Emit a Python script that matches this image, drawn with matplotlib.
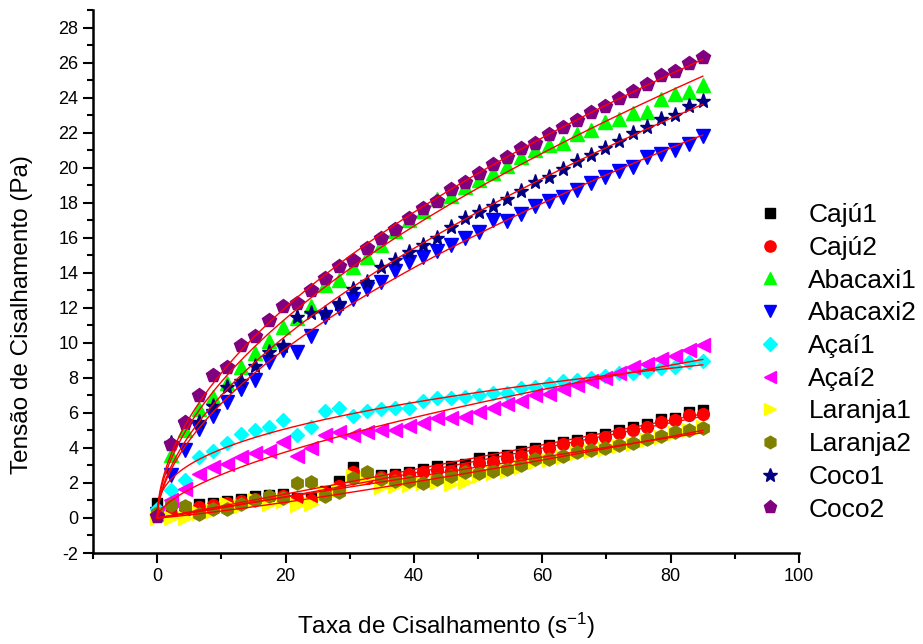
import numpy as np
import matplotlib
matplotlib.use("Agg")
import matplotlib.pyplot as plt
from matplotlib.ticker import MultipleLocator

plt.rcParams['font.family'] = ['Liberation Sans', 'DejaVu Sans']
plt.rcParams['mathtext.fontset'] = 'custom'
plt.rcParams['mathtext.rm'] = 'Liberation Sans'
plt.rcParams['mathtext.it'] = 'Liberation Sans'
plt.rcParams['axes.unicode_minus'] = False

# taxa de cisalhamento (1/s)
taxa = [0.0, 2.18, 4.36, 6.54, 8.72, 10.9, 13.08, 15.26, 17.44, 19.62,
        21.79, 23.97, 26.15, 28.33, 30.51, 32.69, 34.87, 37.05, 39.23, 41.41,
        43.59, 45.77, 47.95, 50.13, 52.31, 54.49, 56.67, 58.85, 61.03, 63.21,
        65.38, 67.56, 69.74, 71.92, 74.1, 76.28, 78.46, 80.64, 82.82, 85.0]

caju1 = [0.85, 0.25, 0.6, 0.78, 0.87, 0.97, 1.07, 1.26, 1.3, 1.35, 1.16, 1.16, 1.54, 2.1,
         2.9, 2.4, 2.45, 2.5, 2.6, 2.8, 2.95, 2.97, 3.1, 3.45, 3.5, 3.6, 3.8, 4.0, 4.17,
         4.36, 4.44, 4.6, 4.8, 5.0, 5.2, 5.35, 5.64, 5.7, 6.07, 6.15]
caju2 = [0.1, 0.2, 0.4, 0.65, 0.75, 0.85, 0.95, 1.1, 1.2, 1.25, 1.1, 1.05, 1.45, 1.85,
         2.65, 2.3, 2.35, 2.4, 2.5, 2.6, 2.72, 2.7, 2.78, 3.16, 3.2, 3.45, 3.54, 3.8, 4.0,
         4.2, 4.3, 4.5, 4.6, 4.87, 5.0, 5.2, 5.5, 5.58, 5.9, 5.96]
abacaxi1 = [0.2, 3.6, 5.0, 6.2, 6.9, 7.7, 8.6, 9.4, 10.1, 10.9, 11.4, 12.1, 13.3, 13.6,
            14.3, 14.9, 15.6, 16.4, 17.0, 17.5, 18.2, 18.4, 18.9, 19.3, 19.7, 20.1, 20.6,
            21.0, 21.3, 21.4, 21.9, 22.15, 22.6, 22.8, 23.1, 23.2, 23.9, 24.2, 24.3, 24.7]
abacaxi2 = [0.2, 2.45, 3.9, 5.1, 5.8, 6.6, 7.35, 7.9, 8.9, 9.6, 9.5, 10.4, 11.5, 12.0,
            12.5, 13.1, 13.5, 14.1, 14.6, 14.9, 15.25, 15.6, 16.0, 16.3, 17.0, 16.95, 17.35,
            17.8, 18.1, 18.3, 18.7, 19.1, 19.45, 19.8, 20.05, 20.6, 20.8, 21.0, 21.35, 21.8]
acai1 = [0.5, 1.6, 2.15, 3.5, 3.8, 4.3, 4.8, 5.05, 5.2, 5.6, 4.75, 5.2, 6.1, 6.3, 5.8,
         6.1, 6.2, 6.3, 6.3, 6.7, 6.85, 6.85, 6.9, 7.0, 7.15, 7.15, 7.4, 7.45, 7.65, 7.8,
         7.85, 8.0, 8.1, 8.25, 8.3, 8.4, 8.55, 8.6, 8.9, 8.95]
acai2 = [0.3, 1.0, 1.65, 2.5, 2.9, 3.1, 3.5, 3.7, 3.8, 4.35, 3.55, 4.0, 4.75, 4.9, 4.75,
         4.9, 5.0, 5.05, 5.25, 5.45, 5.7, 5.7, 5.75, 6.05, 6.3, 6.5, 6.7, 7.0, 7.1, 7.35,
         7.6, 7.8, 8.0, 8.3, 8.6, 8.8, 9.05, 9.25, 9.6, 9.9]
laranja1 = [0.0, 0.02, 0.0, 0.3, 0.4, 0.78, 0.7, 1.0, 0.8, 0.97, 0.75, 0.8, 1.4, 1.6,
            2.4, 2.3, 1.75, 1.8, 1.9, 2.0, 2.05, 1.96, 2.07, 2.4, 2.55, 2.7, 2.9, 3.2, 3.3,
            3.5, 3.7, 3.85, 3.95, 4.1, 4.25, 4.45, 4.65, 4.85, 5.0, 5.2]
laranja2 = [0.3, 0.74, 0.69, 0.25, 0.5, 0.5, 0.78, 1.0, 1.26, 1.15, 2.0, 2.05, 1.26, 1.5,
            2.3, 2.6, 2.2, 2.1, 2.1, 2.0, 2.2, 2.4, 2.6, 2.55, 2.7, 2.8, 3.05, 3.35, 3.35,
            3.55, 3.75, 3.9, 4.0, 4.15, 4.3, 4.5, 4.7, 4.9, 5.0, 5.15]
coco1 = [0.1, 4.3, 5.4, 5.5, 6.4, 7.5, 7.8, 8.7, 9.45, 9.8, 11.45, 11.7, 11.7, 12.2,
         13.1, 13.5, 14.3, 14.7, 15.2, 15.6, 16.0, 16.6, 17.1, 17.45, 17.8, 18.2, 18.65,
         19.2, 19.45, 19.9, 20.4, 20.7, 21.1, 21.5, 21.95, 22.3, 22.8, 23.0, 23.5, 23.8]
coco2 = [0.1, 4.2, 5.5, 7.0, 8.15, 8.6, 9.9, 10.4, 11.3, 12.1, 12.3, 13.0, 13.7, 14.4,
         14.7, 15.4, 16.0, 16.5, 17.1, 17.7, 18.1, 18.8, 19.2, 19.7, 20.2, 20.6, 21.1,
         21.4, 21.9, 22.3, 22.7, 23.2, 23.5, 24.0, 24.4, 24.8, 25.3, 25.5, 26.0, 26.3]

nomes = ['Cajú1', 'Cajú2', 'Abacaxi1', 'Abacaxi2', 'Açaí1', 'Açaí2',
         'Laranja1', 'Laranja2', 'Coco1', 'Coco2']
series = [caju1, caju2, abacaxi1, abacaxi2, acai1, acai2, laranja1, laranja2, coco1, coco2]
marcadores = ['s', 'o', '^', 'v', 'D', '<', '>', 'h', '*', 'p']
cores = ['#000000', '#ff0000', '#00ff00', '#0000ff', '#00ffff', '#ff00ff',
         '#ffff00', '#808000', '#000080', '#800080']
tamanhos = [7.5, 8.5, 9.5, 9.5, 7.5, 9.5, 9.5, 9.5, 11, 10]


def ajuste_potencia(x, y):
    # lei de potencia y = k*x^n, minimos quadrados
    melhor = None
    for n in np.arange(0.05, 1.6, 0.002):
        xn = x**n
        k = (xn*y).sum()/(xn*xn).sum()
        sse = ((k*xn - y)**2).sum()
        if melhor is None or sse < melhor[0]:
            melhor = (sse, k, n)
    return melhor[1], melhor[2]


fig = plt.figure(figsize=(9.23, 6.44), dpi=100)
ax = fig.add_axes([93/923, 91/644, 706/923, 543/644])

x = np.asarray(taxa)
for nome, y, m, c, s in zip(nomes, series, marcadores, cores, tamanhos):
    ax.plot(x, y, linestyle='none', marker=m, color=c, mec=c, ms=s, label=nome, zorder=2)

xf = np.linspace(0, 85, 400)
for y in series:
    k, n = ajuste_potencia(x, np.asarray(y))
    ax.plot(xf, k*xf**n, color='red', lw=1.0, zorder=3)

ax.set_xlim(-10, 100)
ax.set_ylim(-2, 29)
ax.xaxis.set_minor_locator(MultipleLocator(10))
ax.yaxis.set_minor_locator(MultipleLocator(1))
ax.set_xticks([0, 20, 40, 60, 80, 100])
ax.set_yticks(range(-2, 29, 2))
for lado in ['top', 'right']:
    ax.spines[lado].set_visible(False)
for lado in ['left', 'bottom']:
    ax.spines[lado].set_linewidth(1.8)
ax.tick_params(which='major', direction='out', length=7, width=1.5, labelsize=13)
ax.tick_params(which='minor', direction='out', length=4, width=1.5)

ax.set_xlabel('Taxa de Cisalhamento (s$^{-1}$)', fontsize=17.5, labelpad=19)
ax.set_ylabel('Tensão de Cisalhamento (Pa)', fontsize=17.5)
ax.yaxis.set_label_coords(-0.085, 0.44)

fig.legend(loc='upper left', bbox_to_anchor=(744/923, 1-190/644), frameon=False,
           fontsize=19, handlelength=1.0, handletextpad=0.94, labelspacing=0.33,
           borderpad=0, markerscale=0.95)

fig.savefig('out.png', dpi=100)
